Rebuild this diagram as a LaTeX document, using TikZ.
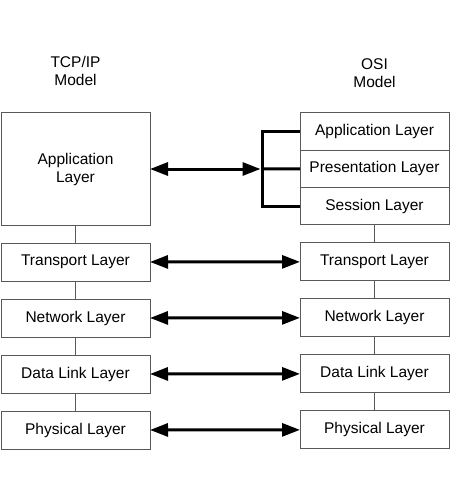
\documentclass[tikz,border=0pt]{standalone}
\usepackage{fontspec}
\setmainfont{Liberation Sans}
\usetikzlibrary{positioning, arrows.meta}
\def\layerfont{\fontsize{15.5}{18}\selectfont}
\colorlet{layer edge}{black!65}
\tikzset{
  layer/.style={draw=layer edge, line width=1pt, minimum width=149pt,
    minimum height=38pt, inner sep=0pt, outer sep=0pt, align=center,
    font=\layerfont},
  sublayer/.style={layer, minimum height=37.33pt},
  stack/.style={draw=layer edge, line width=1pt},
  peer/.style={line width=3pt,
    {Triangle[length=18pt, width=13pt]}-{Triangle[length=18pt, width=13pt]}},
  bracket/.style={line width=3pt},
  title/.style={align=center, font=\layerfont}
}

\begin{document}
\begin{tikzpicture}[x=1pt, y=-1pt]
    \useasboundingbox (0,0) rectangle (450,500);
    \node[title] (tcptitle) at (75.5,71) {TCP/IP\\Model};
    \node[title] (osititle) at (374.5,73) {OSI\\Model};
    % TCP/IP stack
    \node[layer, minimum height=112pt] (tcpapp) at (75.5,169) {Application\\Layer};
    \node[layer, below=18pt of tcpapp] (tcptrans) {Transport Layer};
    \node[layer, below=18pt of tcptrans] (tcpnet) {Network Layer};
    \node[layer, below=18pt of tcpnet] (tcplink) {Data Link Layer};
    \node[layer, below=18pt of tcplink] (tcpphys) {Physical Layer};
    % OSI stack
    \node[sublayer] (osiapp) at (374.5,131.5) {Application Layer};
    \node[sublayer, below=0pt of osiapp] (osipres) {Presentation Layer};
    \node[sublayer, below=0pt of osipres] (osises) {Session Layer};
    \node[layer, below=18pt of osises] (ositrans) {Transport Layer};
    \node[layer, below=18pt of ositrans] (osinet) {Network Layer};
    \node[layer, below=18pt of osinet] (osilink) {Data Link Layer};
    \node[layer, below=18pt of osilink] (osiphys) {Physical Layer};
    \draw[stack] (tcpapp) -- (tcptrans) (tcptrans) -- (tcpnet)
      (tcpnet) -- (tcplink) (tcplink) -- (tcpphys);
    \draw[stack] (osises) -- (ositrans) (ositrans) -- (osinet)
      (osinet) -- (osilink) (osilink) -- (osiphys);
    % peer links
    \coordinate (bus) at (262,169);
    \draw[peer, shorten >=1.5pt] (tcpapp) -- (bus);
    \draw[bracket] (osiapp.west) -| (bus) |- (osises.west);
    \draw[bracket] (osipres.west) -- (bus);
    \draw[peer] (tcptrans) -- (ositrans);
    \draw[peer] (tcpnet) -- (osinet);
    \draw[peer] (tcplink) -- (osilink);
    \draw[peer] (tcpphys) -- (osiphys);
\end{tikzpicture}
\end{document}
